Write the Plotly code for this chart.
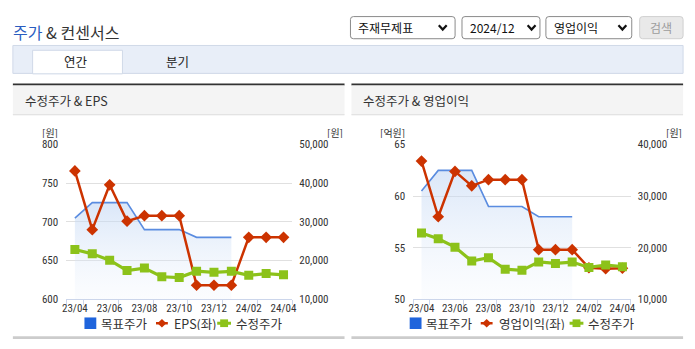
import plotly.graph_objects as go

W, H = 695, 349

# ---------------- data ----------------
months = ["23/04", "23/05", "23/06", "23/07", "23/08", "23/09", "23/10",
          "23/11", "23/12", "24/01", "24/02", "24/03", "24/04"]
target_price = [31000, 35000, 35000, 35000, 28000, 28000, 28000,
                26000, 26000, 26000, None, None, None]
adj_price = [22850, 21730, 20100, 17400, 18050, 15800, 15600,
             17230, 16940, 17200, 16160, 16630, 16300]
eps = [766, 690, 748, 701, 708, 708, 708, 618, 618, 618, 680, 680, 680]
op_income = [63.4, 58.0, 62.4, 61.0, 61.6, 61.6, 61.6, 54.8, 54.8, 54.8, 53.05, 52.95, 53.0]

eps_ticks = [600, 650, 700, 750, 800]
eps_price_ticks = [10000, 20000, 30000, 40000, 50000]
op_ticks = [50, 55, 60, 65]
op_price_ticks = [10000, 20000, 30000, 40000]

left_legend = ["목표주가", "EPS(좌)", "수정주가"]
right_legend = ["목표주가", "영업이익(좌)", "수정주가"]

# ---------------- style ----------------
BLUE = "#5a8ce0"
BLUE_SQ = "#1f64dc"
RED = "#cc3300"
GREEN = "#8cc21a"
AXIS = "#ccd6eb"
GRID = "#e0e0e0"
TXT = "#333333"
CJK = "Noto Sans CJK KR, Noto Sans, sans-serif"
NUM = "Liberation Sans Narrow, Arial Narrow, Roboto Condensed, Liberation Sans, sans-serif"


def X(p):
    return p / W


def Y(p):
    return 1 - p / H


xs = list(range(len(months)))
fill_grad = dict(type="vertical",
                 colorscale=[[0, "rgba(235,242,252,0.15)"], [1, "rgba(190,212,243,0.55)"]])

fig = go.Figure()

# left chart
fig.add_trace(go.Scatter(x=xs, y=target_price, xaxis="x", yaxis="y", mode="lines",
                         line=dict(color=BLUE, width=1.6), fill="tozeroy",
                         fillgradient=dict(fill_grad, start=10000, stop=35000),
                         hoverinfo="skip", showlegend=False))
fig.add_trace(go.Scatter(x=xs, y=eps, xaxis="x", yaxis="y2", mode="lines+markers",
                         line=dict(color=RED, width=2.5),
                         marker=dict(symbol="diamond", size=9, color=RED),
                         hoverinfo="skip", showlegend=False))
fig.add_trace(go.Scatter(x=xs, y=adj_price, xaxis="x", yaxis="y3", mode="lines+markers",
                         line=dict(color=GREEN, width=3.2),
                         marker=dict(symbol="square", size=9, color=GREEN),
                         hoverinfo="skip", showlegend=False))
# right chart
fig.add_trace(go.Scatter(x=xs, y=target_price, xaxis="x2", yaxis="y4", mode="lines",
                         line=dict(color=BLUE, width=1.6), fill="tozeroy",
                         fillgradient=dict(fill_grad, start=10000, stop=35000),
                         hoverinfo="skip", showlegend=False))
fig.add_trace(go.Scatter(x=xs, y=op_income, xaxis="x2", yaxis="y5", mode="lines+markers",
                         line=dict(color=RED, width=2.5),
                         marker=dict(symbol="diamond", size=9, color=RED),
                         hoverinfo="skip", showlegend=False))
fig.add_trace(go.Scatter(x=xs, y=adj_price, xaxis="x2", yaxis="y6", mode="lines+markers",
                         line=dict(color=GREEN, width=3.2),
                         marker=dict(symbol="square", size=9, color=GREEN),
                         hoverinfo="skip", showlegend=False))

tickfont = dict(family=NUM, size=11, color=TXT)
minor_vals = [-0.5] + [i + 0.5 for i in xs[::2]]


def xaxis_def(x0, x1, anchor):
    return dict(domain=[X(x0), X(x1)], range=[-0.5, len(months) - 0.5], anchor=anchor,
                tickmode="array", tickvals=xs[::2], ticktext=months[::2], ticks="",
                showline=True, linecolor=AXIS, linewidth=1, showgrid=False, zeroline=False,
                tickfont=tickfont, fixedrange=True, ticklabelstandoff=-1,
                minor=dict(tickmode="array", tickvals=minor_vals, ticks="outside",
                           ticklen=5, tickcolor=AXIS, tickwidth=1, showgrid=False))


ydom = [Y(304.5), Y(144)]


def left_axis(overlay, rng, vals, fmt=""):
    return dict(overlaying=overlay, side="left", range=rng, tickmode="array", tickvals=vals,
                tickformat=fmt, showgrid=True, gridcolor=GRID, gridwidth=1, zeroline=False,
                showline=False, ticks="", tickfont=tickfont, ticklabelstandoff=7,
                fixedrange=True)


def right_axis(overlay, rng, vals):
    return dict(overlaying=overlay, side="right", range=rng, tickmode="array", tickvals=vals,
                tickformat=",", showgrid=False, zeroline=False, showline=False, ticks="",
                tickfont=tickfont, ticklabelstandoff=6, fixedrange=True)


fig.update_layout(
    width=W, height=H, margin=dict(l=0, r=0, t=0, b=0),
    paper_bgcolor="white", plot_bgcolor="rgba(0,0,0,0)",
    showlegend=False, hovermode=False,
    xaxis=xaxis_def(63, 292, "y"),
    yaxis=dict(domain=ydom, range=[eps_price_ticks[0], eps_price_ticks[-1]], visible=False,
               anchor="x", fixedrange=True),
    yaxis2=dict(left_axis("y", [eps_ticks[0], eps_ticks[-1]], eps_ticks), anchor="x"),
    yaxis3=dict(right_axis("y", [eps_price_ticks[0], eps_price_ticks[-1]], eps_price_ticks),
                anchor="x"),
    xaxis2=xaxis_def(414.5, 635, "y4"),
    yaxis4=dict(domain=ydom, range=[op_price_ticks[0], op_price_ticks[-1]], visible=False,
                anchor="x2", fixedrange=True),
    yaxis5=dict(left_axis("y4", [op_ticks[0], op_ticks[-1]], op_ticks), anchor="x2"),
    yaxis6=dict(right_axis("y4", [op_price_ticks[0], op_price_ticks[-1]], op_price_ticks),
                anchor="x2"),
)

shapes = []
annotations = []


def rect(x0, y0, x1, y1, fill=None, line=None, lw=1, layer="below"):
    shapes.append(dict(type="rect", xref="paper", yref="paper",
                       x0=X(x0), x1=X(x1), y0=Y(y1), y1=Y(y0),
                       fillcolor=fill or "rgba(0,0,0,0)",
                       line=dict(color=line or "rgba(0,0,0,0)", width=lw if line else 0),
                       layer=layer))


def seg(x0, y0, x1, y1, color, lw=1):
    shapes.append(dict(type="line", xref="paper", yref="paper",
                       x0=X(x0), x1=X(x1), y0=Y(y0), y1=Y(y1),
                       line=dict(color=color, width=lw), layer="above"))


def path(pts, fill=None, line=None, lw=1, close=True):
    d = "M" + " L".join(f"{X(a):.5f},{Y(b):.5f}" for a, b in pts) + (" Z" if close else "")
    shapes.append(dict(type="path", xref="paper", yref="paper", path=d,
                       fillcolor=fill or "rgba(0,0,0,0)",
                       line=dict(color=line or "rgba(0,0,0,0)", width=lw if line else 0),
                       layer="above"))


def rrect(x0, y0, x1, y1, r, fill, line, lw=1):
    d = (f"M{X(x0 + r)},{Y(y0)} L{X(x1 - r)},{Y(y0)} Q{X(x1)},{Y(y0)} {X(x1)},{Y(y0 + r)} "
         f"L{X(x1)},{Y(y1 - r)} Q{X(x1)},{Y(y1)} {X(x1 - r)},{Y(y1)} "
         f"L{X(x0 + r)},{Y(y1)} Q{X(x0)},{Y(y1)} {X(x0)},{Y(y1 - r)} "
         f"L{X(x0)},{Y(y0 + r)} Q{X(x0)},{Y(y0)} {X(x0 + r)},{Y(y0)} Z")
    shapes.append(dict(type="path", xref="paper", yref="paper", path=d, fillcolor=fill,
                       line=dict(color=line, width=lw), layer="below"))


def text(x, y, s, size=12, color=TXT, anchor="left", family=CJK, height=None):
    a = dict(x=X(x), y=Y(y), xref="paper", yref="paper", text=s,
             showarrow=False, xanchor=anchor, yanchor="middle", borderpad=0,
             font=dict(family=family, size=size, color=color))
    if height:
        a["height"] = height
        a["valign"] = "middle"
    annotations.append(a)


# ---- header ----
text(8.5, 26.5, "<span style='color:#2a5cc0'>주가</span> & 컨센서스", size=16, color="#333")

for (bx0, bx1, label, tx, cx) in [(351, 457, "주재무제표", 358, 444.5),
                                   (464, 543, "2024/12", 471, 534.5),
                                   (549, 636, "영업이익", 556, 626.5)]:
    rrect(bx0, 11, bx1, 34, 3, "white", "#8a8a8a", 1)
    text(tx, 22.5, label, size=12, color="#111")
    path([(cx - 4, 20), (cx, 24.5), (cx + 4, 20)], line="#111", lw=2.2, close=False)
rrect(644, 11, 688, 34, 3, "#e9e9e9", "#d0d0d0", 1)
text(666, 22.5, "검색", size=12, color="#9c9c9c", anchor="center")

# ---- tabs ----
rect(9, 41, 688, 70, fill="#e8eef8", line="#d0d9e8")
rect(29, 46, 120, 70.5, fill="white", line="#d0d9e8")
text(73, 58, "연간", size=12.5, color="#222", anchor="center")
text(176, 58, "분기", size=12.5, color="#222", anchor="center")

# ---- panels ----
for (p0, p1, title) in [(9, 345, "수정주가 & EPS"), (352, 688, "수정주가 & 영업이익")]:
    rect(p0, 80.5, p1, 82.7, fill="#333333")
    rect(p0, 82.7, p1, 113, fill="#f4f4f4")
    rect(p0, 112.5, p1, 113.5, fill="#dcdcdc")
    text(p0 + 11, 98.5, title, size=12.5, color="#333")
    rect(p0, 343, p1, 346, fill="#cccccc")

# ---- axis unit labels ----
text(47, 131, "[원]", size=10, anchor="center", height=12)
text(335, 131, "[원]", size=10, anchor="center", height=12)
text(394, 131, "[억원]", size=10, anchor="center", height=12)
text(678.5, 131, "[원]", size=10, anchor="center", height=12)


# ---- legends ----
def legend(x_sq, x_red, x_green, labels):
    cy = 329.5
    rect(x_sq, cy - 6, x_sq + 12, cy + 6, fill=BLUE_SQ, layer="above")
    text(x_sq + 16, cy, labels[0], size=12.5, height=13)
    seg(x_red, cy, x_red + 12, cy, RED, 2.5)
    c = x_red + 6
    path([(c, cy - 4.5), (c + 4.5, cy), (c, cy + 4.5), (c - 4.5, cy)], fill=RED)
    text(x_red + 17, cy, labels[1], size=12.5, height=13)
    seg(x_green, cy, x_green + 14, cy, GREEN, 3)
    c = x_green + 7
    rect(c - 4, cy - 4, c + 4, cy + 4, fill=GREEN, layer="above")
    text(x_green + 18, cy, labels[2], size=12.5, height=13)


legend(81.5, 154, 216, left_legend)
legend(411, 483, 573, right_legend)

fig.update_layout(shapes=shapes, annotations=annotations)
fig.write_html("out.html", config={"displayModeBar": False, "staticPlot": True})
